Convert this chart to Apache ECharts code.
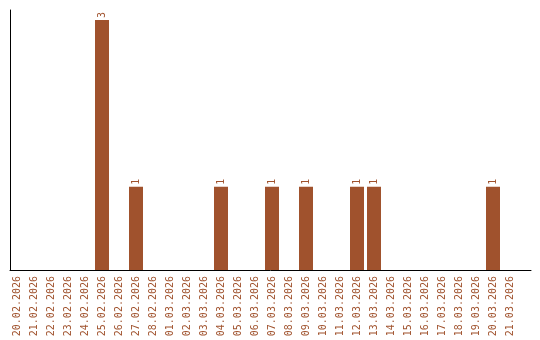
<!DOCTYPE html>
<html><head><meta charset="utf-8">
<script src="https://cdn.jsdelivr.net/npm/echarts@6/dist/echarts.min.js"></script>
<style>html,body{margin:0;padding:0;background:#fff}#c{width:540px;height:340px}</style>
</head><body><div id="c"></div>
<script>
const categories = ["20.02.2026","21.02.2026","22.02.2026","23.02.2026","24.02.2026","25.02.2026","26.02.2026","27.02.2026","28.02.2026","01.03.2026","02.03.2026","03.03.2026","04.03.2026","05.03.2026","06.03.2026","07.03.2026","08.03.2026","09.03.2026","10.03.2026","11.03.2026","12.03.2026","13.03.2026","14.03.2026","15.03.2026","16.03.2026","17.03.2026","18.03.2026","19.03.2026","20.03.2026","21.03.2026"];
const counts = [0,0,0,0,0,3,0,1,0,0,0,0,1,0,0,1,0,1,0,0,1,1,0,0,0,0,0,0,1,0];
const color = '#a0522d';
const font = '"DejaVu Sans Mono", monospace';
const chart = echarts.init(document.getElementById('c'), null, {renderer:'canvas'});
chart.setOption({
  animation:false,
  grid:[
    {left:8.5, width:510, top:10, height:260},
    {left:10, right:9, top:10, height:260}
  ],
  xAxis:[
    {type:'category', gridIndex:0, data:categories, axisLine:{show:false}, axisTick:{show:false},
     axisLabel:{interval:0, rotate:90, margin:6, color:color, fontFamily:font, fontSize:10}},
    {type:'value', gridIndex:1, min:0, max:1, axisLine:{show:true, onZero:false, lineStyle:{color:'#000', width:1}},
     axisTick:{show:false}, axisLabel:{show:false}, splitLine:{show:false}}
  ],
  yAxis:[
    {type:'value', gridIndex:0, min:0, max:3.12, show:false},
    {type:'value', gridIndex:1, min:0, max:1, axisLine:{show:true, lineStyle:{color:'#000', width:1}},
     axisTick:{show:false}, axisLabel:{show:false}, splitLine:{show:false}}
  ],
  series:[{
    type:'bar', xAxisIndex:0, yAxisIndex:0, data:counts, barWidth:14,
    itemStyle:{color:color},
    label:{show:true, position:'top', rotate:90, align:'left', verticalAlign:'middle', distance:2,
      color:color, fontFamily:font, fontSize:10,
      formatter:p=>p.value>0?String(p.value):''}
  }]
});
</script></body></html>
